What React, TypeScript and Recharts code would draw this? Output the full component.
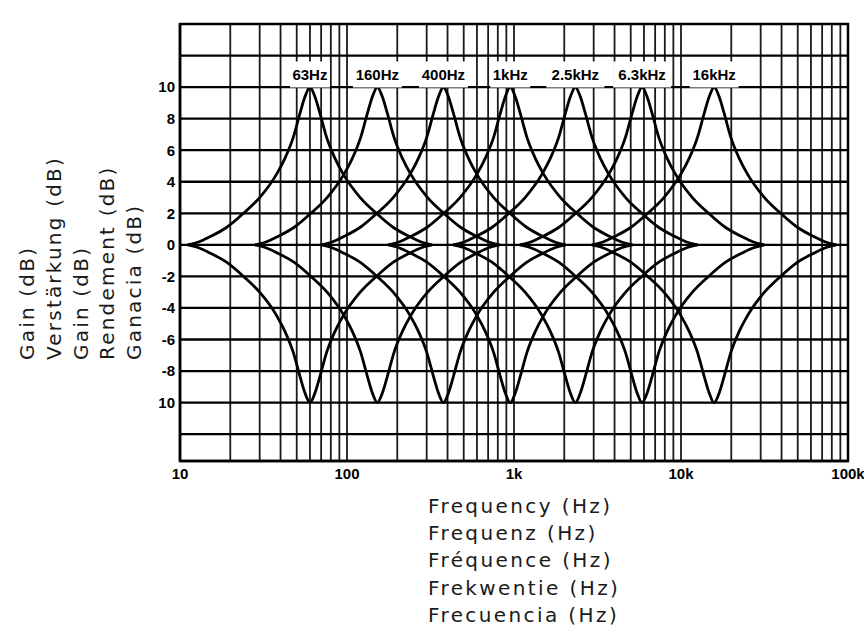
import { LineChart, Line, XAxis, YAxis, CartesianGrid, ReferenceArea, ReferenceDot } from 'recharts';

const BAND_LABELS = ['63Hz', '160Hz', '400Hz', '1kHz', '2.5kHz', '6.3kHz', '16kHz'];
const BAND_CENTERS = [60, 152, 378, 950, 2330, 5850, 15800];

// one side of a band curve: frequency ratio from centre -> gain (dB)
const SHAPE_RATIO = [1, 1.07, 1.15, 1.26, 1.41, 1.58, 2.0, 2.5, 3.16, 4.0, 4.6, 5.4];
const SHAPE_GAIN = [10, 9.4, 8.3, 6.8, 5.5, 4.5, 3.0, 2.0, 1.1, 0.5, 0.2, 0];

const X_TICKS = [10, 100, 1000, 10000, 100000];
const X_TICK_LABELS = ['10', '100', '1k', '10k', '100k'];
const Y_TICKS = [10, 8, 6, 4, 2, 0, -2, -4, -6, -8, -10];
const Y_TICK_LABELS = ['10', '8', '6', '4', '2', '0', '-2', '-4', '-6', '-8', '10'];
const Y_GRID = [-12, -10, -8, -6, -4, -2, 0, 2, 4, 6, 8, 10, 12];
const X_GRID = [10, 100, 1000, 10000].flatMap((d) => [1, 2, 3, 4, 5, 6, 7, 8, 9].map((m) => d * m)).concat([100000]);

const Y_TITLES = ['Gain (dB)', 'Verstärkung (dB)', 'Gain (dB)', 'Rendement (dB)', 'Ganacia (dB)'];
const X_TITLES = ['Frequency (Hz)', 'Frequenz (Hz)', 'Fréquence (Hz)', 'Frekwentie (Hz)', 'Frecuencia (Hz)'];

const TICK_FONT = '"Liberation Sans", Arial, sans-serif';
const TITLE_FONT = '"DejaVu Sans", sans-serif';

function bandCurve(fc: number, sign: number) {
  const left = SHAPE_RATIO.slice(1).map((r, i) => ({ f: fc / r, g: sign * SHAPE_GAIN[i + 1] })).reverse();
  const right = SHAPE_RATIO.map((r, i) => ({ f: fc * r, g: sign * SHAPE_GAIN[i] }));
  return [...left, ...right];
}

export default function App() {
  return (
    <div style={{ position: 'absolute', left: 0, top: 0, width: 864, height: 631, background: '#fff', overflow: 'hidden' }}>
      <LineChart width={864} height={631} margin={{ top: 24, right: 16, bottom: 0, left: 0 }}>
        <CartesianGrid horizontal={false} verticalValues={X_GRID} stroke="#1a1a1a" strokeWidth={1.8} />
        <CartesianGrid vertical={false} horizontalValues={Y_GRID} stroke="#000" strokeWidth={2.3} />
        <XAxis
          type="number"
          dataKey="f"
          scale="log"
          domain={[10, 100000]}
          allowDataOverflow
          ticks={X_TICKS}
          interval={0}
          tickFormatter={(v: number) => X_TICK_LABELS[X_TICKS.indexOf(v)] ?? ''}
          height={170}
          tickSize={0}
          tickMargin={7}
          axisLine={{ stroke: '#000', strokeWidth: 2.5 }}
          tick={{ fill: '#000', fontSize: 15, fontWeight: 700, fontFamily: TICK_FONT }}
        />
        <YAxis
          type="number"
          domain={[-13.7, 14]}
          allowDataOverflow
          ticks={Y_TICKS}
          interval={0}
          tickFormatter={(v: number) => Y_TICK_LABELS[Y_TICKS.indexOf(v)] ?? ''}
          width={180}
          tickSize={0}
          tickMargin={5}
          axisLine={{ stroke: '#000', strokeWidth: 2.5 }}
          tick={{ fill: '#000', fontSize: 15, fontWeight: 700, fontFamily: TICK_FONT }}
        />
        <ReferenceArea x1={10} x2={100000} y1={-13.7} y2={14} fill="none" stroke="#000" strokeWidth={2.5} ifOverflow="visible" />
        {BAND_CENTERS.map((fc, i) => (
          <Line key={'b' + i} data={bandCurve(fc, 1)} dataKey="g" type="monotone" stroke="#000" strokeWidth={2.8} dot={false} isAnimationActive={false} />
        ))}
        {BAND_CENTERS.map((fc, i) => (
          <Line key={'c' + i} data={bandCurve(fc, -1)} dataKey="g" type="monotone" stroke="#000" strokeWidth={2.8} dot={false} isAnimationActive={false} />
        ))}
        {BAND_CENTERS.map((fc, i) => (
          <ReferenceDot
            key={'l' + i}
            x={fc}
            y={10.8}
            r={0}
            ifOverflow="visible"
            shape={(p: any) => {
              const w = BAND_LABELS[i].length * 9 + 4;
              return (
                <g>
                  <rect x={p.cx - w / 2} y={p.cy - 13} width={w} height={26} fill="#fff" />
                  <text x={p.cx} y={p.cy} textAnchor="middle" dominantBaseline="central" fontSize={15} fontWeight={700} fontFamily={TICK_FONT} fill="#000">
                    {BAND_LABELS[i]}
                  </text>
                </g>
              );
            }}
          />
        ))}
      </LineChart>
      <svg width={864} height={631} style={{ position: 'absolute', left: 0, top: 0, pointerEvents: 'none' }}>
        {Y_TITLES.map((t, i) => (
          <text key={t + i} transform={`translate(${34 + i * 26.8},360) rotate(-90)`} fontSize={20} letterSpacing={2.2} fontFamily={TITLE_FONT} fill="#1a1a1a">
            {t}
          </text>
        ))}
        {X_TITLES.map((t, i) => (
          <text key={t} x={428} y={513 + i * 27.2} fontSize={20} letterSpacing={2.4} fontFamily={TITLE_FONT} fill="#1a1a1a">
            {t}
          </text>
        ))}
      </svg>
    </div>
  );
}
